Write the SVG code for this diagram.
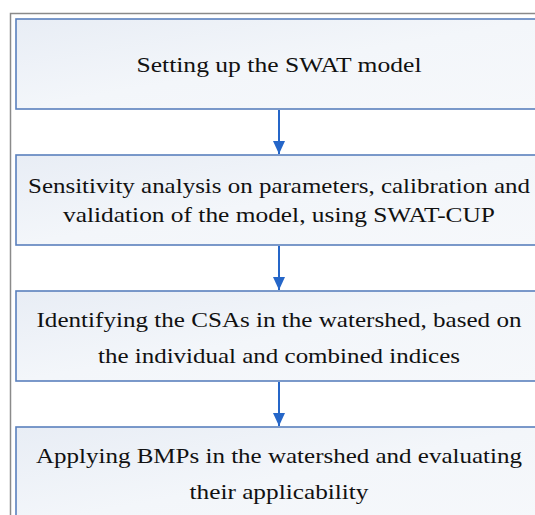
<svg xmlns="http://www.w3.org/2000/svg" width="535" height="515" viewBox="0 0 535 515">
<defs>
<linearGradient id="g" x1="0" y1="0" x2="1" y2="1">
<stop offset="0" stop-color="#e8edf5"/>
<stop offset="0.5" stop-color="#f3f6fa"/>
<stop offset="1" stop-color="#f6f8fb"/>
</linearGradient>
<marker id="ah" markerWidth="14" markerHeight="12" refX="13" refY="6" orient="auto" markerUnits="userSpaceOnUse">
<path d="M0,0 L13,6 L0,12 Z" fill="#2566c8"/>
</marker>
</defs>
<style>
.box{fill:url(#g);stroke:#5a80bd;stroke-width:1.6}
.t{font-family:'Liberation Serif','Times New Roman','DejaVu Serif',serif;font-size:21px;fill:#111;text-anchor:middle}
.c{stroke:#2566c8;stroke-width:2;fill:none}
</style>
<rect width="535" height="515" fill="#fff"/>
<path d="M10.5,515 V13.5 H540" fill="none" stroke="#8a8a8a" stroke-width="1.5"/>
<g id="n1">
<rect class="box" x="16" y="19" width="530" height="90"/>
<text class="t" x="279" y="72" textLength="285" lengthAdjust="spacingAndGlyphs">Setting up the SWAT model</text>
</g>
<g id="n2">
<rect class="box" x="16" y="155" width="530" height="90"/>
<text class="t" x="279" y="193" textLength="502" lengthAdjust="spacingAndGlyphs">Sensitivity analysis on parameters, calibration and</text>
<text class="t" x="279" y="222" textLength="432" lengthAdjust="spacingAndGlyphs">validation of the model, using SWAT-CUP</text>
</g>
<g id="n3">
<rect class="box" x="16" y="291" width="530" height="90"/>
<text class="t" x="279" y="327" textLength="485" lengthAdjust="spacingAndGlyphs">Identifying the CSAs in the watershed, based on</text>
<text class="t" x="279" y="363" textLength="362" lengthAdjust="spacingAndGlyphs">the individual and combined indices</text>
</g>
<g id="n4">
<rect class="box" x="16" y="427" width="530" height="100"/>
<text class="t" x="279" y="463" textLength="486" lengthAdjust="spacingAndGlyphs">Applying BMPs in the watershed and evaluating</text>
<text class="t" x="279" y="499" textLength="179" lengthAdjust="spacingAndGlyphs">their applicability</text>
</g>
<g id="connectors">
<line class="c" x1="279" y1="110" x2="279" y2="154" marker-end="url(#ah)"/>
<line class="c" x1="279" y1="246" x2="279" y2="290" marker-end="url(#ah)"/>
<line class="c" x1="279" y1="382" x2="279" y2="426" marker-end="url(#ah)"/>
</g>
</svg>
